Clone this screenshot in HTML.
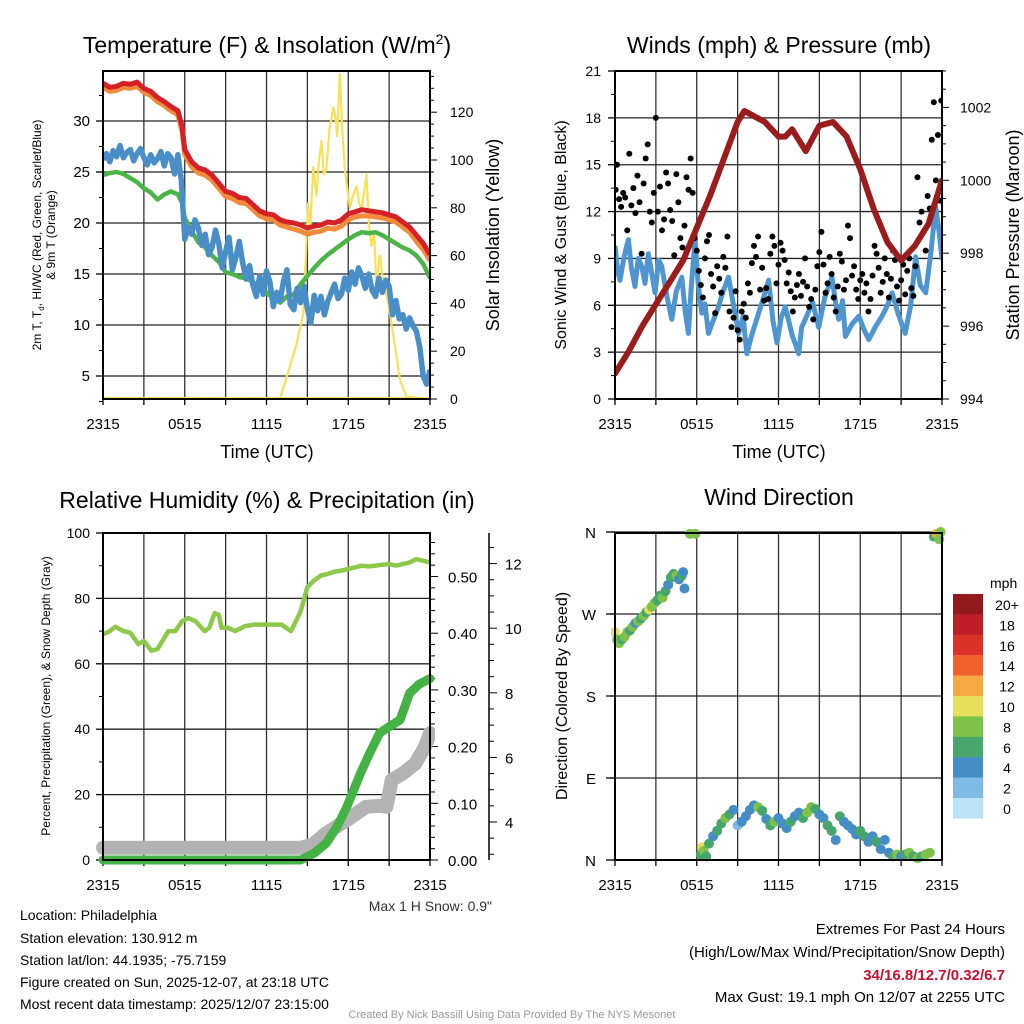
<!DOCTYPE html>
<html><head><meta charset="utf-8">
<style>
html,body{margin:0;padding:0;background:#fff;}
svg{display:block;font-family:"Liberation Sans",Arial,sans-serif;}
</style></head>
<body>
<svg id="chart" width="1024" height="1024" viewBox="0 0 1024 1024">
<defs>
<clipPath id="c1"><rect x="103" y="71" width="327" height="328"/></clipPath>
<clipPath id="c2"><rect x="615" y="71" width="327" height="328"/></clipPath>
<clipPath id="c3"><rect x="95" y="533" width="340" height="335"/></clipPath>
<clipPath id="c4"><rect x="611" y="526" width="336" height="340"/></clipPath>
</defs>
<text x="267" y="53" font-size="23" text-anchor="middle">Temperature (F) &amp; Insolation (W/m<tspan dy="-9" font-size="14">2</tspan><tspan dy="9">)</tspan></text>
<text x="779" y="53" font-size="23" text-anchor="middle">Winds (mph) &amp; Pressure (mb)</text>
<text x="267" y="508" font-size="23" text-anchor="middle">Relative Humidity (%) &amp; Precipitation (in)</text>
<text x="779" y="505" font-size="23" text-anchor="middle">Wind Direction</text>

<text transform="translate(41,235) rotate(-90)" font-size="12" text-anchor="middle">2m T, T<tspan font-size="8" dy="3">d</tspan><tspan dy="-3">, HI/WC (Red, Green, Scarlet/Blue)</tspan></text>
<text transform="translate(55,235) rotate(-90)" font-size="12" text-anchor="middle">&amp; 9m T (Orange)</text>
<text transform="translate(499,235) rotate(-90)" font-size="18" text-anchor="middle">Solar Insolation (Yellow)</text>
<text x="267" y="458" font-size="18" text-anchor="middle">Time (UTC)</text>
<text transform="translate(566,235) rotate(-90)" font-size="16" text-anchor="middle">Sonic Wind &amp; Gust (Blue, Black)</text>
<text transform="translate(1019,235) rotate(-90)" font-size="18" text-anchor="middle">Station Pressure (Maroon)</text>
<text x="779" y="458" font-size="18" text-anchor="middle">Time (UTC)</text>
<text transform="translate(50,696) rotate(-90)" font-size="12" text-anchor="middle">Percent, Precipitation (Green), &amp; Snow Depth (Gray)</text>
<text x="492" y="911" font-size="14" text-anchor="end" fill="#333">Max 1 H Snow: 0.9"</text>
<text transform="translate(567,696) rotate(-90)" font-size="16" text-anchor="middle">Direction (Colored By Speed)</text>
<text x="990" y="588" font-size="14">mph</text>

<g font-size="14">
<text x="20" y="920">Location: Philadelphia</text>
<text x="20" y="943">Station elevation: 130.912 m</text>
<text x="20" y="965">Station lat/lon: 44.1935; -75.7159</text>
<text x="20" y="987">Figure created on Sun, 2025-12-07, at 23:18 UTC</text>
<text x="20" y="1009">Most recent data timestamp: 2025/12/07 23:15:00</text>
</g>
<g font-size="15" text-anchor="end">
<text x="1005" y="934">Extremes For Past 24 Hours</text>
<text x="1005" y="957">(High/Low/Max Wind/Precipitation/Snow Depth)</text>
<text x="1005" y="980" fill="#c8102e" font-weight="bold">34/16.8/12.7/0.32/6.7</text>
<text x="1005" y="1002">Max Gust: 19.1 mph On 12/07 at 2255 UTC</text>
</g>
<text x="512" y="1018" font-size="11" fill="#999" text-anchor="middle">Created By Nick Bassill Using Data Provided By The NYS Mesonet</text>
<g id="layer"></g>
</svg>
<script>
// ---------- Panel 1 data ----------
const tempHours = [0,0.5,1,1.5,2,2.5,3,3.5,4,4.5,5,5.5,5.8,6,6.5,7,7.5,8,8.5,9,9.5,10,10.5,11,11.5,12,12.5,13,13.5,14,14.5,15,15.5,16,16.5,17,17.5,18,18.5,19,19.5,20,20.5,21,21.5,22,22.5,23,23.5,24];
const tempRed = [33.7,33.3,33.4,33.7,33.6,33.8,33.2,32.9,32.3,31.9,31.4,31.0,29.5,27.2,26.0,25.4,25.2,24.7,23.9,23.1,22.9,22.5,22.4,21.8,21.2,20.9,20.8,20.3,20.1,20.0,19.8,19.5,19.7,19.8,20.1,20.0,20.3,20.9,21.1,21.3,21.2,21.1,21.0,20.8,20.6,20.1,19.6,18.8,18.0,16.9];
const tempOrange = [33.3,32.9,33.0,33.3,33.2,33.4,32.8,32.5,31.9,31.5,31.0,30.6,29.0,26.7,25.5,24.9,24.7,24.2,23.4,22.6,22.4,22.0,21.9,21.3,20.7,20.4,20.3,19.8,19.6,19.4,19.2,18.9,19.1,19.2,19.5,19.4,19.7,20.3,20.6,20.7,20.7,20.6,20.5,20.3,20.1,19.6,19.1,18.2,17.4,16.3];
const dewGreen = [24.7,24.9,25.0,24.8,24.4,24.0,23.4,23.0,22.3,22.8,23.1,22.8,22.0,20.5,19.2,18.1,17.6,16.8,16.2,15.2,15.0,14.7,14.6,14.2,13.8,13.2,12.6,12.2,12.8,13.0,14.0,14.8,15.6,16.3,16.9,17.4,17.9,18.4,18.8,19.1,19.0,19.1,18.8,18.4,18.0,17.6,17.3,16.8,16.0,14.6];
const wcHours = [0,0.25,0.5,0.75,1,1.25,1.5,1.75,2,2.25,2.5,2.75,3,3.25,3.5,3.75,4,4.25,4.5,4.75,5,5.25,5.5,5.75,6,6.25,6.5,6.75,7,7.25,7.5,7.75,8,8.25,8.5,8.75,9,9.25,9.5,9.75,10,10.25,10.5,10.75,11,11.25,11.5,11.75,12,12.25,12.5,12.75,13,13.25,13.5,13.75,14,14.25,14.5,14.75,15,15.25,15.5,15.75,16,16.25,16.5,16.75,17,17.25,17.5,17.75,18,18.25,18.5,18.75,19,19.25,19.5,19.75,20,20.25,20.5,20.75,21,21.25,21.5,21.75,22,22.25,22.5,22.75,23,23.25,23.5,23.75,24];
const wcBlue = [26.2,26.8,26.0,27.1,26.5,27.6,26.4,26.9,27.2,26.1,26.8,27.3,26.4,25.7,26.7,25.9,26.3,27.0,25.6,26.8,26.4,24.8,26.7,24.2,18.4,19.6,18.9,20.3,19.5,17.8,18.9,16.9,17.6,19.3,18.0,15.6,17.2,18.6,15.4,16.6,18.2,16.1,14.5,15.8,13.9,12.8,14.8,13.0,15.3,14.2,11.8,13.2,12.4,14.3,15.4,12.0,11.5,13.6,12.2,13.8,11.6,10.2,12.9,11.4,12.8,11.0,12.3,13.2,14.0,12.6,13.0,14.6,13.4,15.2,14.0,15.6,14.8,13.6,15.0,13.4,12.8,14.6,13.2,14.4,13.8,11.0,12.4,10.6,11.0,9.6,10.7,9.9,9.4,7.8,5.0,4.2,5.6];
const solarHours = [0,12.98,13.47,14.2,14.7,15.06,15.2,15.43,15.67,15.85,16.04,16.2,16.4,16.6,16.9,17.05,17.19,17.38,17.55,17.75,18.12,18.3,18.6,18.8,18.97,19.34,19.5,19.7,19.9,20.07,20.3,20.5,20.7,21.05,21.4,21.8,22.27,24];
const solarVals = [0,0,9,23,36,82,70,97,85,100,108,94,96,112,122,118,110,136,114,96,80,84,89,82,79,94,74,64,70,46,60,52,47,36,23,8,1,0];
const tempTicks = [5,10,15,20,25,30];
const solarTicks = [0,20,40,60,80,100,120];
const timeLabels = ["2315","0515","1115","1715","2315"];
// ---------- Panel 2 data ----------
const pressHours = [0,1,2,3,4,5,6,7,8,9,9.5,10,11,12,12.5,13,14,15,16,17,18,19,20,21,22,23,24];
const pressVals = [994.7,995.3,996.0,996.6,997.2,997.8,998.7,999.6,1000.6,1001.6,1001.9,1001.8,1001.6,1001.2,1001.2,1001.4,1000.8,1001.5,1001.6,1001.2,1000.3,999.2,998.3,997.8,998.2,998.8,1000.0];
const windHours = [0,0.2,0.37,0.6,0.8,0.98,1.2,1.47,1.7,1.96,2.2,2.45,2.7,2.94,3.2,3.43,3.8,4.17,4.5,4.9,5.15,5.39,5.6,5.88,6.1,6.37,6.6,6.86,7.2,7.6,7.9,8.33,8.7,9.07,9.4,9.68,10.0,10.29,10.8,11.27,11.6,11.89,12.2,12.5,13.0,13.48,13.7,13.97,14.5,14.95,15.4,15.93,16.2,16.42,16.7,16.91,17.4,17.89,18.3,18.63,19.1,19.6,20.0,20.34,20.8,21.3,21.7,22.06,22.4,22.8,23.2,23.53,23.8,24];
const windVals = [9.8,8.2,7.6,8.8,9.6,10.2,8.4,7.2,9.0,8.5,7.4,9.3,8.0,6.8,8.9,8.5,6.6,5.1,6.9,7.8,5.6,4.2,7.2,10.2,7.4,5.5,6.1,4.2,5.0,5.9,6.8,7.8,6.0,4.2,5.3,2.9,4.0,4.8,6.2,7.6,5.0,3.6,5.2,5.9,4.1,2.9,4.6,5.1,6.2,4.6,6.5,7.8,6.1,5.1,6.3,4.0,4.8,5.3,4.4,3.8,4.6,5.3,6.0,6.8,5.4,4.2,6.0,9.1,7.3,6.8,9.5,12.3,10.6,8.9];
const gustHours = [0.05,0.15,0.3,0.45,0.6,0.75,0.9,1.05,1.2,1.35,1.5,1.65,1.8,1.95,2.1,2.25,2.4,2.55,2.7,2.85,3.0,3.15,3.3,3.45,3.6,3.75,3.9,4.05,4.2,4.35,4.5,4.65,4.8,4.95,5.1,5.25,5.4,5.55,5.7,5.85,6.0,6.15,6.3,6.45,6.6,6.75,6.9,7.05,7.2,7.35,7.5,7.65,7.8,7.95,8.1,8.25,8.4,8.55,8.7,8.85,9.0,9.15,9.3,9.45,9.6,9.75,9.9,10.05,10.2,10.35,10.5,10.65,10.8,10.95,11.1,11.25,11.4,11.55,11.7,11.85,12.0,12.15,12.3,12.45,12.6,12.75,12.9,13.05,13.2,13.35,13.5,13.65,13.8,13.95,14.1,14.25,14.4,14.55,14.7,14.85,15.0,15.15,15.3,15.45,15.6,15.75,15.9,16.05,16.2,16.35,16.5,16.65,16.8,16.95,17.1,17.25,17.4,17.55,17.7,17.85,18.0,18.15,18.3,18.45,18.6,18.75,18.9,19.05,19.2,19.35,19.5,19.65,19.8,19.95,20.1,20.25,20.4,20.55,20.7,20.85,21.0,21.15,21.3,21.45,21.6,21.75,21.9,22.05,22.2,22.35,22.5,22.65,22.8,22.95,23.1,23.25,23.4,23.55,23.7,23.85,23.95];
const gustVals = [13.4,15,12.8,12.3,13.2,12.9,10.8,15.7,12.4,13.5,11.9,14.3,12.6,9.3,13.8,15.4,16.3,12.0,11.3,13.2,18.0,12.0,13.6,10.8,11.5,14.5,13.8,12.1,11.4,9.2,14.4,12.6,10.3,9.7,11.1,14.2,13.4,15.4,13.2,10.3,9.5,8.2,7.3,6.5,9.0,10.1,10.5,8.0,7.2,5.5,8.5,7.7,6.8,9.1,8.4,10.4,5.6,4.6,5.2,6.9,4.4,3.8,5.6,6.1,5.2,7.4,6.8,8.7,9.8,9.1,10.4,7.0,8.4,6.3,7.1,6.4,9.3,10.4,9.8,7.4,8.6,10.0,9.5,8.9,7.4,8.1,6.9,5.6,6.5,7.3,8.0,6.6,7.5,9.0,7.2,5.9,6.4,5.1,7.0,8.5,9.4,10.7,8.6,6.8,7.4,9.1,8.0,6.5,5.6,7.2,9.3,8.8,7.0,7.6,11.1,10.3,7.9,8.5,7.0,6.4,7.6,8.0,6.8,7.4,5.6,6.4,7.9,9.8,9.3,8.4,6.8,7.5,9.0,8.0,6.5,7.7,9.5,8.9,7.2,6.3,7.6,8.6,6.7,8.2,9.0,7.1,6.6,8.5,14.2,11.3,12.0,10.7,9.5,13.0,12.2,16.6,19.0,14.0,16.9,12.7,19.1];
const windTicks = [0,3,6,9,12,15,18,21];
const pressTicks = [994,996,998,1000,1002];
// ---------- Panel 3 data ----------
const rhHours = [0,0.5,0.9,1.5,2.0,2.6,3.0,3.55,4.0,4.8,5.3,5.8,6.25,6.8,7.46,7.8,8.2,8.5,8.7,9.2,9.7,10.4,11.1,12.0,13.1,13.8,14.5,15,15.5,16,16.5,17,17.5,18,18.5,19,19.5,20,20.5,21,21.5,22,22.5,23,23.5,24];
const rhVals = [69,70,71.3,70,69.5,66,67,64,64.5,70,70,73,74,73,70,71,75.5,75,71,71,70,71.5,72,72,72,70,76,83.5,85.5,87,87.5,88.2,88.5,89,89.5,90,89.8,90,90.3,90.5,90,90.5,91,92,91.5,91];
const precipHours = [0,14.5,15.5,16.4,17.2,17.9,18.9,19.6,20.3,21.0,21.8,22.5,23.2,24];
const precipVals = [0,0,0.012,0.03,0.06,0.094,0.153,0.19,0.224,0.235,0.247,0.294,0.31,0.32];
const snowHours = [0,14.5,15.4,16.4,17.9,19.3,20.3,20.8,21.2,22.0,22.9,23.6,24];
const snowVals = [3.2,3.2,3.3,3.66,4.06,4.47,4.5,4.47,5.3,5.5,5.8,6.3,6.75];
const rhTicks = [0,20,40,60,80,100];
const precipTicks = ["0.00","0.10","0.20","0.30","0.40","0.50"];
const snowTicks = [4,6,8,10,12];
// ---------- Panel 4 data ----------
const dirHours = [0.0,0.15,0.3,0.5,0.7,0.9,1.1,1.3,1.5,1.7,1.9,2.1,2.3,2.5,2.7,2.9,3.1,3.3,3.5,3.7,3.9,4.1,4.3,4.5,4.7,4.9,5.0,5.1,5.5,5.9,6.3,6.4,6.5,6.7,6.9,7.2,7.5,7.8,8.1,8.4,8.7,9.0,9.3,9.6,9.9,10.2,10.5,10.8,11.1,11.4,11.7,12.0,12.3,12.6,12.9,13.2,13.5,13.8,14.1,14.4,14.7,15.0,15.3,15.6,15.9,16.2,16.5,16.8,17.1,17.4,17.7,18.0,18.3,18.6,18.9,19.2,19.5,19.8,20.1,20.4,20.7,21.0,21.3,21.6,21.9,22.2,22.5,22.8,23.1,23.4,23.6,23.8,23.9];
const dirDeg = [250,242,238,242,245,250,252,256,260,262,265,268,272,275,278,282,285,290,288,295,302,310,314,312,308,312,316,298,358,358,6,14,10,4,18,26,32,40,46,50,55,38,42,48,55,60,58,54,45,38,42,46,40,35,42,48,52,46,52,58,56,50,46,38,32,22,48,42,38,34,28,32,26,20,26,20,12,22,8,4,6,4,6,8,4,2,4,6,8,355,358,352,360];
const dirSpeed = [10,8,8,7,8,9,7,8,5,8,7,8,6,10,8,8,7,6,8,6,4,7,6,8,4,6,4,4,8,8,6,10,8,6,6,5,6,7,8,6,4,2,4,4,5,4,8,6,4,6,8,4,4,4,6,4,4,6,8,8,6,4,4,6,6,4,6,4,4,4,4,6,6,4,4,6,4,4,4,6,8,4,6,8,6,8,6,8,8,6,12,8,8];
const dirTicks = [360,270,180,90,0];
const dirLabels = ["N","W","S","E","N"];
const cbLabels = ["20+","18","16","14","12","10","8","6","4","2","0"];
const cbColors = ["#921a1d","#bd1f26","#dc3128","#f0612b","#f6a842","#e6df5a","#7dc24a","#46a66c","#458dc6","#7fbbe4","#b9e3f7"];

const NS = "http://www.w3.org/2000/svg";
const layer = document.getElementById('layer');
function mk(tag, attrs, parent){const e=document.createElementNS(NS,tag);for(const k in attrs)e.setAttribute(k,attrs[k]);(parent||layer).appendChild(e);return e;}
const HW = 327/24;
const x1 = h => 103 + h*HW;
const x2 = h => 615 + h*HW;
const yT = t => 376 - (t-5)*10.2;
const yS = s => 399 - s*2.39;
const yW = v => 399 - v*(328/21);
const yP = p => 399 - (p-994)*36.45;
const yRH = r => 860 - r*3.27;
const yPr = p => 860 - p*567;
const ySn = s => 822 - (s-4)*32.3;
const yD = d => 860 - d*(328/360);
function pathD(hs, vs, fx, fy){return hs.map((h,i)=>(i?'L':'M')+fx(h).toFixed(1)+','+fy(vs[i]).toFixed(1)).join('');}
function gline(x1_,y1_,x2_,y2_,w,c){return mk('line',{x1:x1_,y1:y1_,x2:x2_,y2:y2_,stroke:c||'#000','stroke-width':w||1});}
function txt(x,y,s,anchor,size){const e=mk('text',{x:x,y:y,'text-anchor':anchor||'middle','font-size':size||13});e.textContent=s;return e;}

[[103,71,399],[615,71,399],[103,533,860],[615,533,860]].forEach(p=>{
  const L=p[0], T=p[1], B=p[2];
  for(let k=0;k<=8;k++){
    const x=L+k*327/8;
    const g=gline(x,T,x,B,1.3,'#333');
    
    
    const t=gline(x,B,x,B+6,1.3);
    
    
  }
  timeLabels.forEach((s,k)=>{
    const e=txt(L+k*327/4,B+30,s,'middle',15);
    
    
  });
});

tempTicks.forEach(t=>{
  const g=gline(103,yT(t),430,yT(t),1.3,'#222');
  
  
  const tk=gline(96,yT(t),103,yT(t),1.3);
  
  
  const l=txt(90,yT(t)+5,String(t),'end',15);
  
  
});
for(let t=2.5;t<35;t+=5){const m=gline(99,yT(t),103,yT(t),1);}
for(let s=0;s<=135;s+=5){const m=gline(430,yS(s),s%20===0?437:434,yS(s),1);}
solarTicks.forEach(s=>{const l=txt(450,yS(s)+5,String(s),'start',14);});

windTicks.forEach(v=>{
  const g=gline(615,yW(v),942,yW(v),1.3,'#222');
  
  
  const tk=gline(608,yW(v),615,yW(v),1.3);
  
  
  const l=txt(601,yW(v)+5,String(v),'end',14);
  
  
});
for(let v=1.5;v<21;v+=3){const m=gline(611,yW(v),615,yW(v),1);}
for(let p=994;p<=1003;p+=0.5){const m=gline(942,yP(p),p%2===0?949:946,yP(p),1);}
pressTicks.forEach(p=>{const l=txt(960,yP(p)+5,String(p),'start',14);});

rhTicks.forEach(r=>{
  const g=gline(103,yRH(r),430,yRH(r),1.3,'#222');
  
  
  const tk=gline(96,yRH(r),103,yRH(r),1.3);
  
  
  const l=txt(90,yRH(r)+5,String(r),'end',14);
  
  
});
for(let r=10;r<100;r+=20){const m=gline(99,yRH(r),103,yRH(r),1);}
for(let p=0;p<=0.58;p+=0.02){const major=Math.abs(p*10-Math.round(p*10))<1e-6;const m=gline(430,yPr(p),major?438:435,yPr(p),1);}
precipTicks.forEach(s=>{const l=txt(448,yPr(parseFloat(s))+6,s,'start',15);});
{const ax=gline(489,533,489,860,1.5);}
for(let s=3;s<=12.8;s+=0.5){const major=s%2===0;const m=gline(489,ySn(s),major?497:494,ySn(s),1);}
snowTicks.forEach(s=>{const l=txt(505,ySn(s)+6,String(s),'start',15);});

dirTicks.forEach((d,i)=>{
  const g=gline(611,yD(d),942,yD(d),1.3,'#222');
  
  
  const tk=gline(606,yD(d),615,yD(d),1.3);
  
  
  const l=txt(596,yD(d)+6,dirLabels[i],'end',15);
  
  
});

const g1 = mk('g',{'clip-path':'url(#c1)'});


let e;
e=mk('path',{d:pathD(solarHours,solarVals,x1,yS),fill:'none',stroke:'#f7e05a','stroke-width':2.2,'stroke-linejoin':'round'},g1);


e=mk('path',{d:pathD(tempHours,dewGreen,x1,yT),fill:'none',stroke:'#4bb447','stroke-width':4.5,'stroke-linejoin':'round'},g1);


e=mk('path',{d:pathD(wcHours,wcBlue,x1,yT),fill:'none',stroke:'#4a8ec8','stroke-width':5.5,'stroke-linejoin':'round'},g1);


e=mk('path',{d:pathD(tempHours,tempOrange,x1,yT),fill:'none',stroke:'#f58a3a','stroke-width':5,'stroke-linejoin':'round'},g1);


e=mk('path',{d:pathD(tempHours,tempRed,x1,yT),fill:'none',stroke:'#d42027','stroke-width':5,'stroke-linejoin':'round'},g1);


e=mk('line',{x1:103,y1:398,x2:430,y2:398,stroke:'#f7e05a','stroke-width':2});



const g2 = mk('g',{'clip-path':'url(#c2)'});


e=mk('path',{d:pathD(windHours,windVals,x2,yW),fill:'none',stroke:'#4f95d0','stroke-width':5,'stroke-linejoin':'round'},g2);


gustHours.forEach((h,i)=>{
  const c=mk('circle',{cx:x2(h),cy:yW(gustVals[i]),r:3,fill:'#000'},g2);
  
  
});
e=mk('path',{d:pathD(pressHours,pressVals,x2,yP),fill:'none',stroke:'#9b1c1c','stroke-width':6,'stroke-linejoin':'round','stroke-linecap':'round'},g2);



const g3 = mk('g',{'clip-path':'url(#c3)'});


e=mk('path',{d:pathD(rhHours,rhVals,x1,yRH),fill:'none',stroke:'#8dc84a','stroke-width':4.5,'stroke-linejoin':'round'},g3);


e=mk('path',{d:pathD(snowHours,snowVals,x1,ySn),fill:'none',stroke:'#b3b3b3','stroke-width':14,'stroke-linejoin':'round','stroke-linecap':'round'},g3);


e=mk('path',{d:pathD(precipHours,precipVals,x1,yPr),fill:'none',stroke:'#45b245','stroke-width':9,'stroke-linejoin':'round','stroke-linecap':'round'},g3);



const g4 = mk('g',{'clip-path':'url(#c4)'});


function spdColor(s){let idx=10-Math.min(10,Math.floor(s/2));if(s>=20)idx=0;return cbColors[idx];}
dirHours.forEach((h,i)=>{
  const c=mk('circle',{cx:x2(h),cy:yD(dirDeg[i]),r:5,fill:spdColor(dirSpeed[i])},g4);
  
  
});

cbLabels.forEach((s,i)=>{
  const r=mk('rect',{x:953,y:594+i*20.4,width:30,height:20.6,fill:cbColors[i]});
  
  
  const l=txt(1007,594+i*20.4+16,s,'middle',14);
  
  
});

[[103,71,327,328],[615,71,327,328],[103,533,327,327],[615,533,327,327]].forEach(f=>{
  const r=mk('rect',{x:f[0],y:f[1],width:f[2],height:f[3],fill:'none',stroke:'#000','stroke-width':2});
  
  
});
</script>
</body></html>
